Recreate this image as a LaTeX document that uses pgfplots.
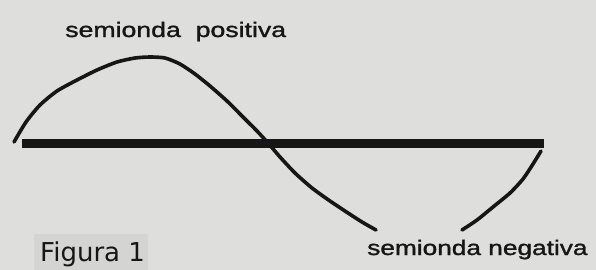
\documentclass[border=0pt]{standalone}
\usepackage{pgfplots}
\pgfplotsset{compat=1.18}
\usepackage{fontspec}
\setmainfont{Liberation Sans}
\newfontfamily\figfont{DejaVu Sans}
\definecolor{paper}{RGB}{222,222,220}
\definecolor{boxg}{RGB}{212,212,210}
\definecolor{ink}{RGB}{22,22,22}
\begin{document}
\begin{tikzpicture}
\fill[paper] (0,0) rectangle (596bp,270bp);
\begin{axis}[
  at={(0,0)}, anchor=south west,
  scale only axis, width=596bp, height=270bp,
  xmin=0, xmax=596, ymin=0, ymax=270, y dir=reverse,
  hide axis, clip=false,
]
% background label box
\addplot[fill=boxg, draw=none] coordinates {(34,234) (148,234) (148,270) (34,270)} -- cycle;
% positive half wave and left part of negative half wave
\addplot[ink, line width=3.6bp, smooth, tension=0.4, line cap=round] coordinates {
 (14,142) (26,122) (40,105) (57,91) (77,80) (97,70) (117,62) (135,58)
 (150,57) (165,58) (180,64) (195,74) (210,86) (227,101) (243,117) (257,131) (268,143)
 (280,157) (295,173) (312,188) (330,201) (348,213) (362,222) (376,230)
};
% negative half wave (right part)
\addplot[ink, line width=3.6bp, smooth, tension=0.4, line cap=round] coordinates {
 (462,230) (477,220) (493,207) (510,193) (523,179) (533,164) (541,151)
};
% thick axis line
\addplot[ink, line width=9bp] coordinates {(22,143) (544,143)};
\node[anchor=base west, inner sep=0, xscale=1.27, text=ink] at (axis cs:65,37) {\fontsize{21bp}{23bp}\selectfont\addfontfeature{FakeBold=1.2} semionda\ \ positiva};
\node[anchor=base west, inner sep=0, xscale=1.25, text=ink] at (axis cs:367,255) {\fontsize{21bp}{23bp}\selectfont\addfontfeature{FakeBold=1.2} semionda negativa};
\node[anchor=base west, inner sep=0, text=ink] at (axis cs:40,261) {\figfont\fontsize{26bp}{28bp}\selectfont Figura 1};
\end{axis}
\end{tikzpicture}
\end{document}
